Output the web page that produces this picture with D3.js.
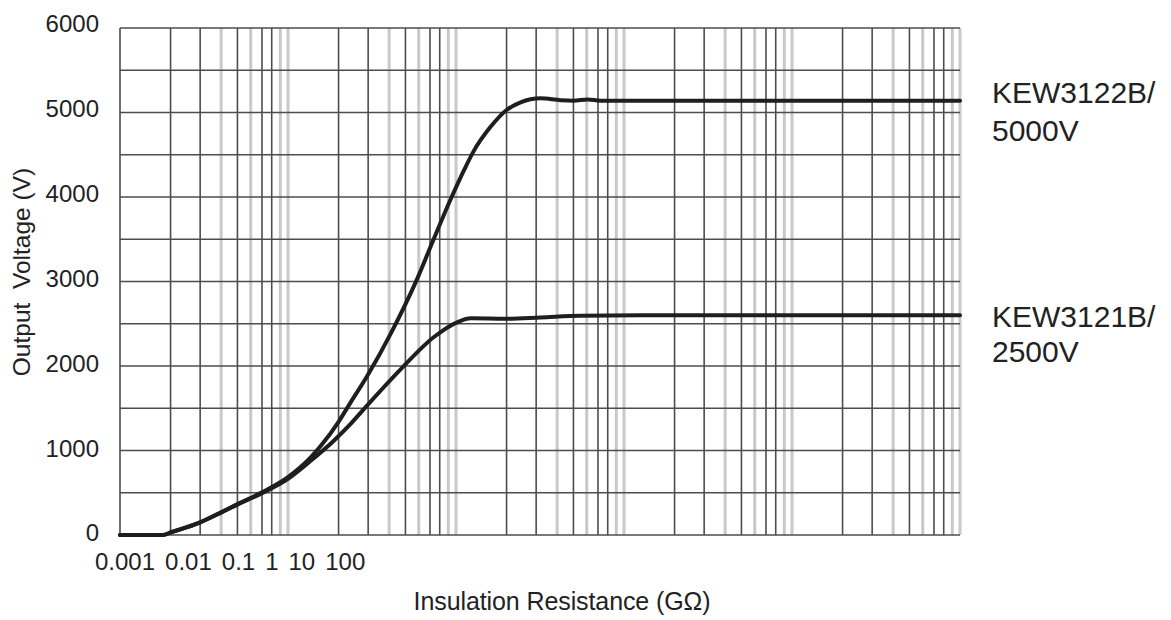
<!DOCTYPE html>
<html>
<head>
<meta charset="utf-8">
<script src="https://cdn.jsdelivr.net/npm/d3@7"></script>
<style>
  html, body { margin: 0; padding: 0; background: #fff; }
  svg { display: block; font-family: "Liberation Sans", Arial, sans-serif; }
</style>
</head>
<body>
<svg id="chart" width="1171" height="620"></svg>
<script>
// ---- data ----
// x values are in the chart's log-grid units (one decade per major grid line)
const res5000 = [5, 9, 10, 15, 20, 25, 35, 50, 68, 78, 100, 118, 149, 204, 295, 368, 464, 562, 636, 803, 1000, 1212, 1594, 2096, 2505, 3034, 3627, 500000];
const volt5000 = [0, 0, 30, 150, 270, 365, 505, 685, 915, 1050, 1340, 1570, 1890, 2380, 3040, 3500, 3970, 4330, 4540, 4830, 5030, 5120, 5168, 5145, 5140, 5155, 5140, 5140];
const res2500 = [5, 9, 10, 15, 20, 25, 35, 50, 68, 93, 118, 149, 234, 368, 511, 611, 1000, 1594, 2757, 6275, 500000];
const volt2500 = [0, 0, 30, 150, 265, 360, 495, 665, 875, 1110, 1315, 1540, 1960, 2340, 2520, 2565, 2560, 2575, 2595, 2600, 2600];
const seriesNames = [["KEW3122B/", "5000V"], ["KEW3121B/", "2500V"]];
const xTickLabels = ["0.001", "0.01", "0.1", "1", "10", "100"];
const yTicks = [0, 1000, 2000, 3000, 4000, 5000, 6000];
const yGridStep = 500;
const decades = [10, 100, 1000, 10000, 100000];
const minorMultipliers = [1.5, 2, 2.5, 3, 3.5, 4, 4.5, 5];
const xTitle = "Insulation Resistance (GΩ)";
const yTitle = "Output\u00a0\u00a0Voltage (V)";

// ---- scales ----
const svg = d3.select("#chart");
const plotLeft = 120, plotRight = 960, plotTop = 28, plotBottom = 535;
const x = d3.scaleLog().domain([5, 500000]).range([plotLeft, plotRight]);
const y = d3.scaleLinear().domain([0, 6000]).range([plotBottom, plotTop]);

const dark = "#4d4d4d", light = "#c9c9c9", ink = "#1e1e1e";
const grid = svg.append("g");

// vertical grid: minor lines
const lightMinor = new Set([2, 3, 4.5, 5]);
const minor = [];
decades.forEach(d => minorMultipliers.forEach(m => {
  const v = d * m;
  if (v <= 500000) minor.push({ v, lightLine: lightMinor.has(m) });
}));
grid.selectAll("line.minor").data(minor).join("line")
  .attr("class", "minor")
  .attr("x1", d => x(d.v)).attr("x2", d => x(d.v))
  .attr("y1", plotTop).attr("y2", plotBottom)
  .attr("stroke", d => d.lightLine ? light : dark)
  .attr("stroke-width", d => d.lightLine ? 3 : 1.6);

// decade lines + left edge
grid.selectAll("line.major").data([5].concat(decades)).join("line")
  .attr("class", "major")
  .attr("x1", d => x(d)).attr("x2", d => x(d))
  .attr("y1", plotTop).attr("y2", plotBottom)
  .attr("stroke", dark).attr("stroke-width", 1.6);

// horizontal grid
grid.selectAll("line.h").data(d3.range(0, 6000 + 1, yGridStep)).join("line")
  .attr("class", "h")
  .attr("x1", plotLeft).attr("x2", plotRight)
  .attr("y1", d => y(d)).attr("y2", d => y(d))
  .attr("stroke", dark).attr("stroke-width", 1.6);

// ---- curves ----
const line = d3.line().x(d => x(d[0])).y(d => y(d[1])).curve(d3.curveMonotoneX);
const series = [d3.zip(res5000, volt5000), d3.zip(res2500, volt2500)];
svg.append("g").selectAll("path").data(series).join("path")
  .attr("d", line)
  .attr("fill", "none")
  .attr("stroke", ink)
  .attr("stroke-width", 4)
  .attr("stroke-linejoin", "round")
  .attr("stroke-linecap", "round");

// ---- y tick labels ----
svg.append("g").selectAll("text").data(yTicks).join("text")
  .attr("x", 99)
  .attr("y", d => y(d) - 2 + (d / 6000) * -2)
  .attr("dy", "0.35em")
  .attr("text-anchor", "end")
  .attr("font-size", 24)
  .attr("fill", "#222")
  .text(d => d);

// ---- x tick labels (laid out as a flowing row, as in the reference) ----
const xl = svg.append("g");
let cursor = 95;
xTickLabels.forEach(t => {
  const el = xl.append("text")
    .attr("x", cursor).attr("y", 570)
    .attr("font-size", 24).attr("fill", "#222")
    .text(t);
  cursor += el.node().getComputedTextLength() + 10;
});

// ---- axis titles ----
svg.append("text")
  .attr("x", 562).attr("y", 610)
  .attr("text-anchor", "middle")
  .attr("font-size", 25).attr("fill", "#222")
  .attr("letter-spacing", -0.1)
  .text(xTitle);

svg.append("text")
  .attr("transform", "translate(30,272) rotate(-90)")
  .attr("text-anchor", "middle")
  .attr("font-size", 24.5).attr("fill", "#222")
  .text(yTitle);

// ---- series labels ----
const lastV = [volt5000[volt5000.length - 1], volt2500[volt2500.length - 1]];
const labelOffsets = [2, 12];
const lineGaps = [38, 35];
seriesNames.forEach((lines, i) => {
  const t = svg.append("text")
    .attr("x", 992)
    .attr("y", y(lastV[i]) + labelOffsets[i])
    .attr("font-size", 30).attr("fill", "#222");
  lines.forEach((s, j) => {
    t.append("tspan").attr("x", 992).attr("dy", j === 0 ? 0 : lineGaps[i]).text(s);
  });
});
</script>
</body>
</html>
